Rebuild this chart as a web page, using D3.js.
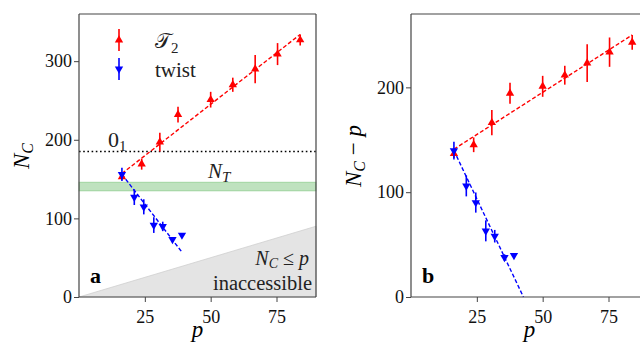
<!DOCTYPE html>
<html><head><meta charset="utf-8">
<script src="https://cdn.jsdelivr.net/npm/d3@7"></script>
<style>
html,body{margin:0;padding:0;background:#fff;}
svg text{font-family:"Liberation Serif","Times New Roman",serif;}
</style></head>
<body>
<svg id="c" width="640" height="351"></svg>
<script>
// ---- data ----
const pT2   = [16.3, 23.8, 30.7, 37.6, 50.0, 58.4, 66.9, 75.4, 84.0];
const ncT2  = [153, 169, 197, 232, 251, 270, 290, 309, 327];
const errT2 = [4, 7, 12, 10, 10, 9, 18, 14, 7];

const pTw   = [16.3, 21.0, 24.6, 28.4, 31.8, 35.5, 39.1];
const ncTw  = [156, 127, 114.7, 91.5, 89.8, 73.3, 78.8];
const errTw = [8.5, 10, 9.6, 10, 6, 3, 0];

// fitted lines (end points)
const fitT2A = [[16.3, 157], [84, 334]];
const fitTwA = [[16.3, 156], [39, 57.5]];
const fitT2B = [[16.3, 141], [84, 250]];
const fitTwB = [[16.3, 139.7], [42.7, 0]];

const o1Level = 185;          // dotted line "0_1"
const ntBand = [135, 146];    // green band N_T
const xTicks = [25, 50, 75];
const yTicksA = [0, 100, 200, 300];
const yTicksB = [0, 100, 200];

const RED = "#ff0000", BLUE = "#0000ff", SPINE = "#444";
const svg = d3.select("#c");

function panel(opt) {
  const x = d3.scaleLinear().domain([0, 90]).range([opt.x0, opt.x0 + 237]);
  const y = d3.scaleLinear().domain([0, opt.ymax]).range([297, 14]);
  const g = svg.append("g");

  if (opt.inacc) {
    g.append("path")
      .attr("d", d3.line()([[x(0), y(0)], [x(90), y(90)], [x(90), y(0)]]) + "Z")
      .attr("fill", "#e4e4e4").attr("stroke", "#cfcfcf").attr("stroke-width", 0.8);
  }
  if (opt.band) {
    g.append("rect").attr("x", x(0)).attr("width", x(90) - x(0))
      .attr("y", y(ntBand[1])).attr("height", y(ntBand[0]) - y(ntBand[1]))
      .attr("fill", "#2ca02c").attr("fill-opacity", 0.3)
      .attr("stroke", "#2ca02c").attr("stroke-opacity", 0.3).attr("stroke-width", 1);
  }
  if (opt.dotted) {
    g.append("line").attr("x1", x(0)).attr("x2", x(90))
      .attr("y1", y(o1Level)).attr("y2", y(o1Level))
      .attr("stroke", "#000").attr("stroke-width", 1.6).attr("stroke-dasharray", "1.6,2.6");
  }
  const line = d3.line().x(d => x(d[0])).y(d => y(d[1]));
  g.append("path").attr("d", line(opt.fitT2)).attr("fill", "none")
    .attr("stroke", RED).attr("stroke-width", 1.4).attr("stroke-dasharray", "4,2.2");
  g.append("path").attr("d", line(opt.fitTw)).attr("fill", "none")
    .attr("stroke", BLUE).attr("stroke-width", 1.4).attr("stroke-dasharray", "4,2.2");

  const sub = opt.sub;
  function series(ps, ns, es, color, rot) {
    ps.forEach((p, i) => {
      const v = ns[i] - (sub ? p : 0);
      if (es[i] > 0) {
        g.append("line").attr("x1", x(p)).attr("x2", x(p))
          .attr("y1", y(v - es[i])).attr("y2", y(v + es[i]))
          .attr("stroke", color).attr("stroke-width", 1.6);
      }
      g.append("path").attr("d", d3.symbol(d3.symbolTriangle, 30)())
        .attr("transform", `translate(${x(p)},${y(v)}) rotate(${rot})`)
        .attr("fill", color);
    });
  }
  series(pT2, ncT2, errT2, RED, 0);
  series(pTw, ncTw, errTw, BLUE, 180);

  // spines
  const sp = [[x(0), 14, x(0), 297], [x(0), 297, x(90), 297], [x(0), 14, x(90), 14], [x(90), 14, x(90), 297]];
  sp.forEach(s => g.append("line").attr("x1", s[0]).attr("y1", s[1]).attr("x2", s[2]).attr("y2", s[3])
    .attr("stroke", SPINE).attr("stroke-width", 1.2));

  // axes
  const ax = g.append("g").attr("transform", "translate(0,297)")
    .call(d3.axisBottom(x).tickValues(xTicks).tickSize(5).tickPadding(4));
  const ay = g.append("g").attr("transform", `translate(${x(0)},0)`)
    .call(d3.axisLeft(y).tickValues(opt.yTicks).tickSize(5).tickPadding(2));
  [ax, ay].forEach(a => {
    a.attr("font-family", null).attr("font-size", null);
    a.select(".domain").remove();
    a.selectAll("line").attr("stroke", SPINE).attr("stroke-width", 1);
    a.selectAll("text").attr("font-size", 18).attr("fill", "#111");
  });
  ax.selectAll("text").attr("dy", "0.95em");

  // axis labels
  svg.append("text").attr("x", (x(0) + x(90)) / 2).attr("y", 337)
    .attr("text-anchor", "middle").attr("font-size", 23).attr("font-style", "italic").text("p");
  const yl = svg.append("text").attr("transform", `translate(${opt.ylx},156) rotate(-90)`)
    .attr("text-anchor", "middle").attr("font-size", 23).attr("font-style", "italic");
  yl.append("tspan").text("N");
  yl.append("tspan").attr("font-size", 16).attr("dy", 4).text("C");
  if (sub) {
    yl.append("tspan").attr("dy", -4).attr("font-style", "normal").text(" \u2212 ");
    yl.append("tspan").text("p");
  }
  // panel letter
  svg.append("text").attr("x", opt.x0 + 11).attr("y", 283).attr("font-size", 22)
    .attr("font-weight", "bold").text(opt.letter);
  return {x, y};
}

panel({x0: 79, ymax: 360, yTicks: yTicksA, fitT2: fitT2A, fitTw: fitTwA,
  sub: false, inacc: true, band: true, dotted: true, ylx: 29, letter: "a"});
panel({x0: 411, ymax: 270, yTicks: yTicksB, fitT2: fitT2B, fitTw: fitTwB,
  sub: true, inacc: false, band: false, dotted: false, ylx: 361, letter: "b"});

// annotations in panel a
const t01 = svg.append("text").attr("x", 108).attr("y", 147).attr("font-size", 22).attr("fill", "#222");
t01.append("tspan").text("0");
t01.append("tspan").attr("font-size", 15).attr("dy", 4).text("1");

const tnt = svg.append("text").attr("x", 208).attr("y", 178).attr("font-size", 21).attr("font-style", "italic").attr("fill", "#222");
tnt.append("tspan").text("N");
tnt.append("tspan").attr("font-size", 15).attr("dy", 4).text("T");

const tnc = svg.append("text").attr("x", 309).attr("y", 265).attr("text-anchor", "end").attr("font-size", 20).attr("fill", "#222");
tnc.append("tspan").attr("font-style", "italic").text("N");
tnc.append("tspan").attr("font-style", "italic").attr("font-size", 14).attr("dy", 3).text("C");
tnc.append("tspan").attr("dy", -3).text(" \u2264 ");
tnc.append("tspan").attr("font-style", "italic").text("p");
svg.append("text").attr("x", 312).attr("y", 290).attr("text-anchor", "end").attr("font-size", 20.5)
  .attr("fill", "#222").text("inaccessible");

// legend
const legend = [
  {label: "\uD835\uDCAF", sub: "2", color: RED, rot: 0, y: 40},
  {label: "twist", sub: "", color: BLUE, rot: 180, y: 69}
];
legend.forEach(l => {
  svg.append("line").attr("x1", 119).attr("x2", 119).attr("y1", l.y - 11).attr("y2", l.y + 11)
    .attr("stroke", l.color).attr("stroke-width", 1.6);
  svg.append("path").attr("d", d3.symbol(d3.symbolTriangle, 30)())
    .attr("transform", `translate(119,${l.y}) rotate(${l.rot})`).attr("fill", l.color);
  const t = svg.append("text").attr("x", 155).attr("y", l.y + 8).attr("font-size", 21).attr("fill", "#222");
  t.append("tspan").text(l.label);
  if (l.sub) t.append("tspan").attr("font-size", 15).attr("dy", 5).text(l.sub);
});
</script>
</body></html>
